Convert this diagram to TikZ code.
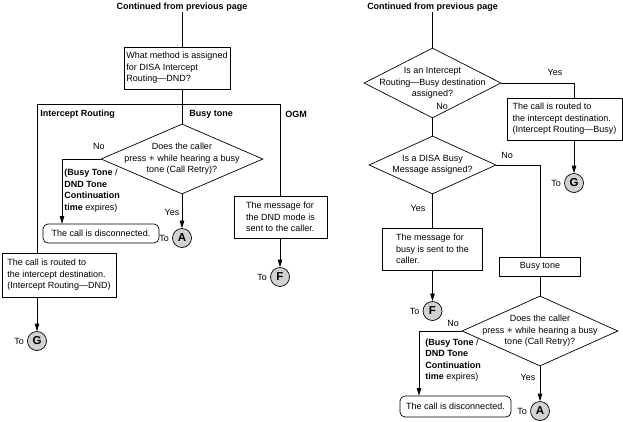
\documentclass[tikz,border=0pt]{standalone}
\usepackage{fontspec}
\usepackage{graphicx}
\setmainfont{Liberation Sans}
\usetikzlibrary{shapes.geometric,arrows.meta}
\newcommand{\starkey}{\smash{\raisebox{-0.3pt}{\scalebox{1.3}{$\ast$}}}}
\tikzset{
  lbl/.style={font=\fontsize{9}{11.5}\selectfont},
  blbl/.style={font=\fontsize{9}{11.5}\selectfont\bfseries},
  pbox/.style={draw, rectangle, align=left, inner sep=0pt, font=\fontsize{9}{11.5}\selectfont},
  cbox/.style={draw, rectangle, align=center, inner sep=0pt, font=\fontsize{9}{11.5}\selectfont},
  rbox/.style={draw, rectangle, rounded corners=5pt, align=center, inner sep=0pt, font=\fontsize{9}{11.5}\selectfont},
  dia/.style={draw, diamond, inner sep=0pt},
  conn/.style={draw, circle, fill=gray!35, minimum size=19pt, inner sep=0pt, font=\fontsize{11.5}{12}\selectfont\bfseries},
  tolbl/.style={label={[lbl, label distance=3pt]left:To}},
  arr/.style={-{Triangle[length=7.5pt,width=4.5pt]}},
}
\begin{document}
\begin{tikzpicture}[x=1pt,y=-1pt,line width=0.7pt, every node/.style={inner sep=0pt}]
\useasboundingbox[fill=white] (0,0) rectangle (623,421);

% ---------- left part ----------
\node[blbl] (cont1) at (182,7) {Continued from previous page};
\node[pbox, minimum width=106pt, minimum height=42pt] (q1) at (177,68) {What method is assigned\\for DISA Intercept\\Routing—DND?};
\coordinate (jL) at (37,104);
\coordinate (jC) at (182,104);
\coordinate (jR) at (280,104);
\draw (cont1.south) -- (cont1.south |- q1.north);
\draw (jC |- q1.south) -- (jC);
\draw (jL) -- (jR);

\node[blbl, anchor=west] (lIR) at (40,114) {Intercept Routing};
\node[blbl, anchor=west] (lBT) at (189,114) {Busy tone};
\node[blbl, anchor=west] (lOG) at (285,114) {OGM};

\node[dia, minimum width=162pt, minimum height=70pt,
  label={[lbl, align=center]center:Does the caller\\press \starkey{} while hearing a busy\\tone (Call Retry)?}] (d1) at (182,159) {};
\draw (jC) -- (d1.north);

\node[lbl] (n1) at (99,146) {No};
\coordinate (c1) at (62,159);
\node[rbox, minimum width=116pt, minimum height=19pt] (disc1) at (101,233.5) {The call is disconnected.};
\draw[arr] (d1.west) -- (c1) -- (c1 |- disc1.north);
\node[lbl, align=left, anchor=west] (t1) at (64,190.5) {\textbf{(Busy Tone} /\\\textbf{DND Tone}\\\textbf{Continuation}\\\textbf{time} expires)};

\node[lbl] (y1) at (172,212) {Yes};
\node[conn, tolbl] (A1) at (182,238) {A};
\draw[arr] (d1.south) -- (A1);

\node[pbox, minimum width=114pt, minimum height=44pt] (r1) at (59,275) {The call is routed to\\the intercept destination.\\(Intercept Routing—DND)};
\draw (jL) -- (jL |- r1.north);
\node[conn, tolbl] (G1) at (37,341) {G};
\draw[arr] (G1 |- r1.south) -- (G1);

\node[pbox, minimum width=93pt, minimum height=42pt] (m1) at (280.5,217) {The message for\\the DND mode is\\sent to the caller.};
\draw (jR) -- (jR |- m1.north);
\node[conn, tolbl] (F1) at (280,277) {F};
\draw[arr] (F1 |- m1.south) -- (F1);

% ---------- right part ----------
\node[blbl] (cont2) at (432.5,7) {Continued from previous page};
\node[dia, minimum width=137pt, minimum height=70pt,
  label={[lbl, align=center]center:Is an Intercept\\Routing—Busy destination\\assigned?}] (d2) at (432.5,83) {};
\draw (cont2.south) -- (d2.north);

\node[lbl] (y2) at (555,72) {Yes};
\node[pbox, minimum width=115pt, minimum height=42pt] (r2) at (564.5,119) {The call is routed to\\the intercept destination.\\(Intercept Routing—Busy)};
\coordinate (c2) at (574,83);
\draw (d2.east) -- (c2) -- (c2 |- r2.north);
\node[conn, tolbl] (G2) at (574,183) {G};
\draw[arr] (G2 |- r2.south) -- (G2);

\node[lbl] (n2) at (442,106) {No};
\node[dia, minimum width=127pt, minimum height=58pt,
  label={[lbl, align=center]center:Is a DISA Busy\\Message assigned?}] (d3) at (432.5,165) {};
\draw (d2.south) -- (d3.north);

\node[lbl] (n3) at (507,155) {No};
\node[cbox, minimum width=81pt, minimum height=19pt] (bt) at (540,266.5) {Busy tone};
\coordinate (c3) at (540,165);
\draw (d3.east) -- (c3) -- (bt.north);

\node[lbl] (y3) at (418,208) {Yes};
\node[pbox, minimum width=100pt, minimum height=42pt] (m2) at (432.5,249) {The message for\\busy is sent to the\\caller.};
\draw (d3.south) -- (m2.north);
\node[conn, tolbl] (F2) at (432.5,311) {F};
\draw[arr] (m2.south) -- (F2);

\node[dia, minimum width=156pt, minimum height=70pt,
  label={[lbl, align=center]center:Does the caller\\press \starkey{} while hearing a busy\\tone (Call Retry)?}] (d4) at (540,331) {};
\draw (bt.south) -- (d4.north);

\node[lbl] (n4) at (453,323) {No};
\coordinate (c4) at (419,331);
\node[rbox, minimum width=111pt, minimum height=21pt] (disc2) at (455.5,406.5) {The call is disconnected.};
\draw[arr] (d4.west) -- (c4) -- (c4 |- disc2.north);
\node[lbl, align=left, anchor=west] (t2) at (425,360) {\textbf{(Busy Tone} /\\\textbf{DND Tone}\\\textbf{Continuation}\\\textbf{time} expires)};

\node[lbl] (y4) at (528,377) {Yes};
\node[conn, tolbl] (A2) at (540,411) {A};
\draw[arr] (d4.south) -- (A2);
\end{tikzpicture}
\end{document}
